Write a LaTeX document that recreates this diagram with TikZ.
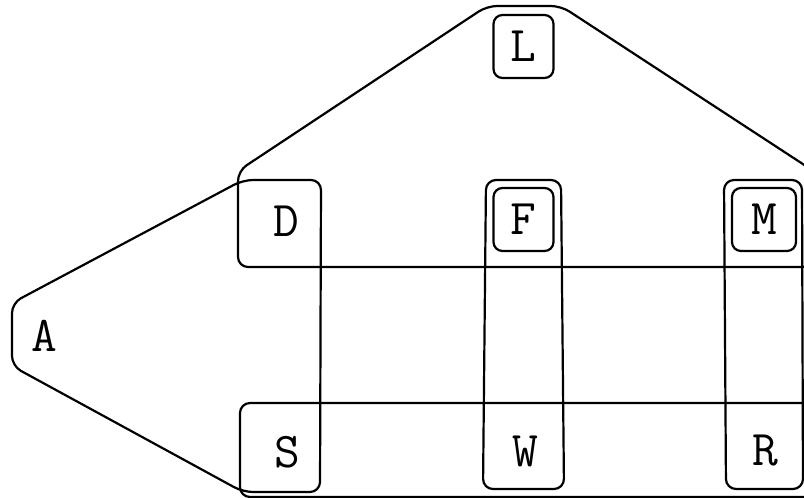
\documentclass[tikz,border=0pt]{standalone}
\begin{document}
\begin{tikzpicture}[x=1pt,y=-1pt,
  lab/.style={font=\ttfamily\fontsize{50}{50}\selectfont, inner sep=0pt},
  box/.style={lab, draw, line width=2.2pt, rounded corners=9pt, minimum width=60pt, minimum height=63pt},
  hull/.style={draw, line width=2.2pt, rounded corners=10pt}]
\useasboundingbox (0,0) rectangle (804,498);
\clip (0,0) rectangle (804,498);
% hyperedges
\draw[hull] (12,303) -- (243,180) -- (321,180) -- (320,492) -- (243,492) -- (12,366) -- cycle;
\draw[hull] (238,171) -- (487,6) -- (561,6) -- (812,170) -- (812,267) -- (238,267) -- cycle;
\draw[hull] (486,180) -- (561,180) -- (564,489) -- (483,489) -- cycle;
\draw[hull] (724,180) -- (802,180) -- (803,489) -- (726,489) -- cycle;
\draw[hull] (240,403) -- (830,403) -- (830,497) -- (240,497) -- cycle;
% nodes
\node[lab] (A) at (44,336) {A};
\node[lab] (D) at (286,221) {D};
\node[lab] (S) at (287,452) {S};
\node[lab] (W) at (525,451) {W};
\node[lab] (R) at (765,451) {R};
\node[box] (L) at (523.5,46.5) {L};
\node[box] (F) at (523.5,219.5) {F};
\node[box, minimum width=64pt] (M) at (764,219.5) {M};
\end{tikzpicture}
\end{document}
